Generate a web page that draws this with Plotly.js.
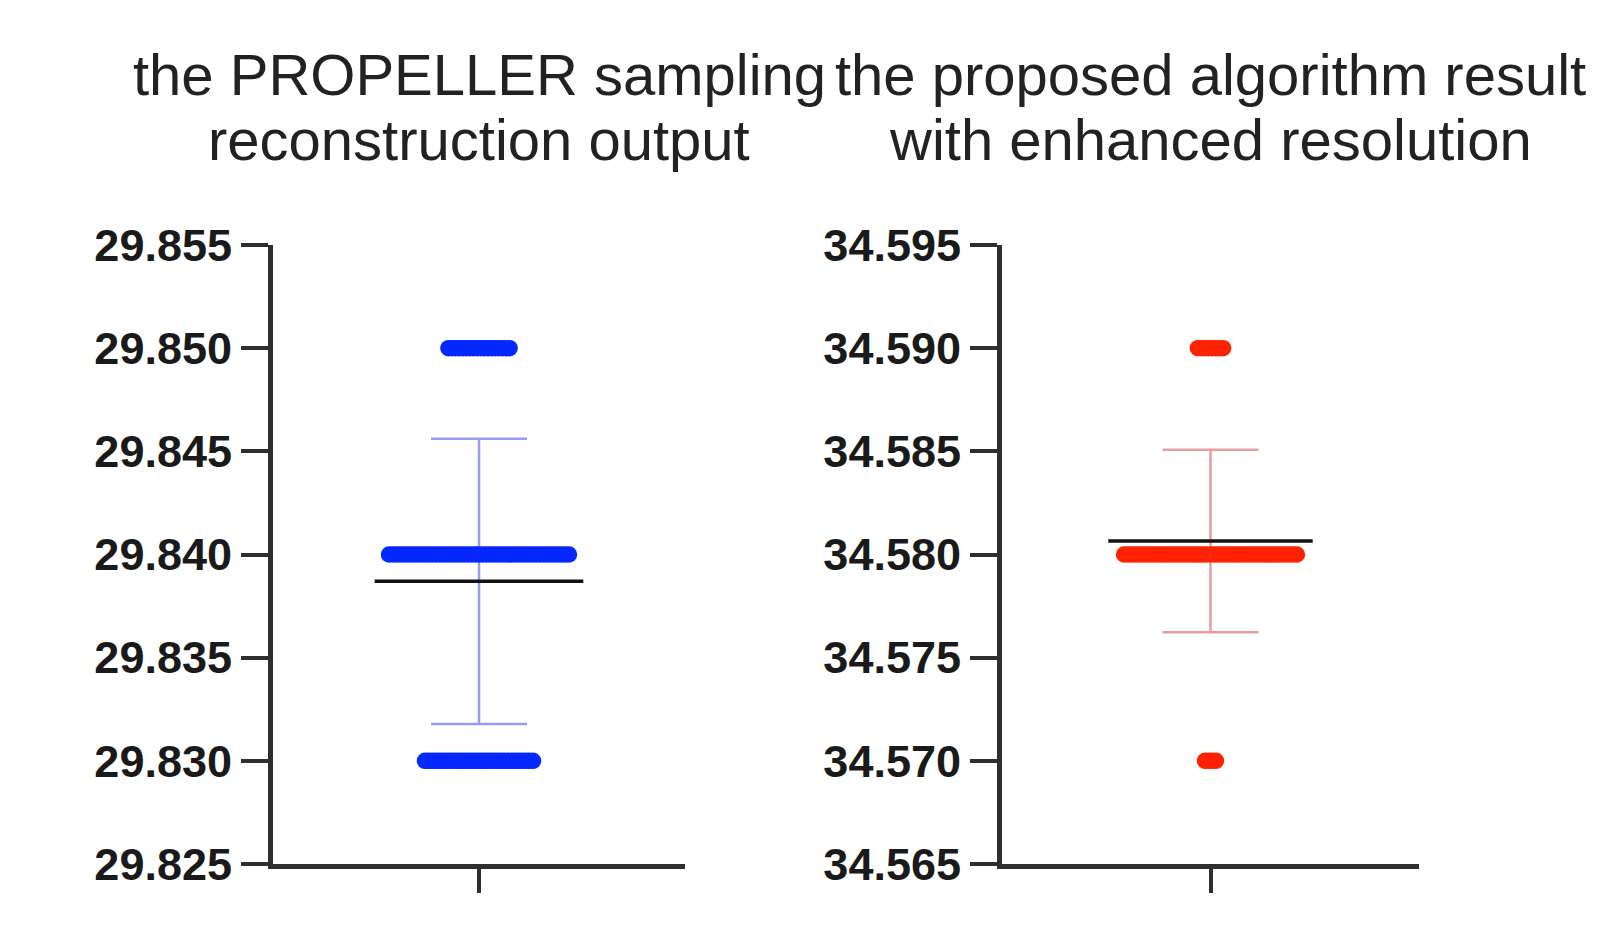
<!DOCTYPE html>
<html>
<head>
<meta charset="utf-8">
<script src="https://cdn.plot.ly/plotly-3.0.1.min.js"></script>
<style>
  html, body { margin: 0; padding: 0; background: #fff; }
  #chart { width: 1616px; height: 944px; }
</style>
</head>
<body>
<div id="chart"></div>
<script>
// ---- data ----
// left group: PROPELLER reconstruction
const propLevels = [29.830, 29.840, 29.850];
const propCounts = [31, 51, 18];
// right group: proposed algorithm
const propsdLevels = [34.570, 34.580, 34.590];
const propsdCounts = [4, 49, 8];

const leftTitle = ['the PROPELLER sampling', 'reconstruction output'];
const rightTitle = ['the proposed algorithm result', 'with enhanced resolution'];

const leftTicks = [29.825, 29.830, 29.835, 29.840, 29.845, 29.850, 29.855];
const rightTicks = [34.565, 34.570, 34.575, 34.580, 34.585, 34.590, 34.595];

// ---- helpers ----
function expand(levels, counts) {
    const out = [];
    levels.forEach((v, i) => { for (let k = 0; k < counts[i]; k++) out.push(v); });
    return out;
}

function meanSd(vals) {
    const m = vals.reduce((a, b) => a + b, 0) / vals.length;
    const v = vals.reduce((a, b) => a + (b - m) * (b - m), 0) / (vals.length - 1);
    return { mean: m, sd: Math.sqrt(v) };
}

// spread the points of one row side by side (scatter dot plot)
function swarm(levels, counts, step) {
    const xs = [], ys = [];
    levels.forEach((v, i) => {
        const n = counts[i];
        for (let k = 0; k < n; k++) {
            xs.push((k - (n - 1) / 2) * step);
            ys.push(v);
        }
    });
    return { xs, ys };
}

const W = 1616, H = 944;
const leftDom = [273 / W, 685 / W];
const rightDom = [1002 / W, 1419 / W];
const dotGap = 3.6; // px between neighbouring dots

function groupTraces(levels, counts, dom, xa, ya, color, barColor, meanLen) {
    const pxPerUnit = (dom[1] - dom[0]) * W / 2;
    const sw = swarm(levels, counts, dotGap / pxPerUnit);
    const st = meanSd(expand(levels, counts));
    return [
        {
            x: sw.xs, y: sw.ys, xaxis: xa, yaxis: ya,
            type: 'scatter', mode: 'markers',
            marker: { size: 16.5, color: color, line: { width: 0 } },
            hoverinfo: 'y', showlegend: false
        },
        {
            x: [0], y: [st.mean], xaxis: xa, yaxis: ya,
            type: 'scatter', mode: 'markers',
            marker: { symbol: 'line-ew', size: meanLen, color: '#111', line: { color: '#111', width: 3.5 } },
            error_y: { type: 'data', array: [st.sd], visible: true, color: barColor, thickness: 2.5, width: 48 },
            hoverinfo: 'y', showlegend: false
        }
    ];
}

const traces = [
    ...groupTraces(propLevels, propCounts, leftDom, 'x', 'y', '#0528ff', 'rgba(20,40,220,0.45)', 149),
    ...groupTraces(propsdLevels, propsdCounts, rightDom, 'x2', 'y2', '#ff2200', 'rgba(205,60,60,0.5)', 146)
];

const axisLine = { showline: true, linecolor: '#2e2e2e', linewidth: 5, zeroline: false, showgrid: false };
const tickFont = { family: 'Liberation Sans, Arial, sans-serif', size: 45, color: '#1a1a1a', weight: 'bold' };

function xAxis(dom, anchor) {
    return Object.assign({}, axisLine, {
        domain: dom, anchor: anchor, range: [-1, 1],
        tickvals: [0], showticklabels: false,
        ticks: 'outside', ticklen: 24, tickwidth: 4, tickcolor: '#2e2e2e'
    });
}

function yAxis(ticks, anchor) {
    return Object.assign({}, axisLine, {
        anchor: anchor, domain: [0, 1],
        range: [ticks[0], ticks[ticks.length - 1]],
        tickvals: ticks, tickformat: '.3f',
        ticks: 'outside', ticklen: 27, tickwidth: 4, tickcolor: '#2e2e2e',
        tickfont: tickFont
    });
}

const titleFont = { family: 'Liberation Sans, Arial, sans-serif', size: 58, color: '#222' };
const annotations = [];
[[leftTitle, 'x'], [rightTitle, 'x2']].forEach(([lines, xa]) => {
    lines.forEach((t, i) => {
        annotations.push({
            text: t, xref: xa + ' domain', x: 0.5, yref: 'paper', y: i === 0 ? 1.276 : 1.17,
            xanchor: 'center', yanchor: 'middle', showarrow: false, font: titleFont
        });
    });
});

const layout = {
    width: W, height: H,
    margin: { l: 0, r: 0, t: 245, b: 80 },
    paper_bgcolor: '#fff', plot_bgcolor: '#fff',
    xaxis: xAxis(leftDom, 'y'),
    yaxis: yAxis(leftTicks, 'x'),
    xaxis2: xAxis(rightDom, 'y2'),
    yaxis2: yAxis(rightTicks, 'x2'),
    annotations: annotations,
    showlegend: false
};

Plotly.newPlot('chart', traces, layout, { displayModeBar: false, staticPlot: true });
</script>
</body>
</html>
